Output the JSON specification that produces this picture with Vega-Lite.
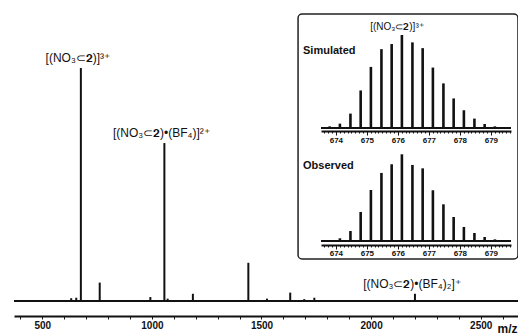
{
  "$schema": "https://vega.github.io/schema/vega-lite/v6.json",
  "padding": {"left": 13, "top": 13, "right": 0, "bottom": 0},
  "background": "white",
  "width": 505.3,
  "height": 287,
  "view": {"stroke": null},
  "config": {"font": "Liberation Sans", "text": {"font": "Liberation Sans", "color": "#111"}},
  "resolve": {"scale": {"x": "independent", "y": "independent"}, "axis": {"x": "independent", "y": "independent"}},
  "datasets": {
    "main": [
      {"mz": 632, "intensity": 1.2},
      {"mz": 655, "intensity": 1.4},
      {"mz": 676, "intensity": 100},
      {"mz": 762, "intensity": 7.9},
      {"mz": 993, "intensity": 1.7},
      {"mz": 1057, "intensity": 67.8},
      {"mz": 1072, "intensity": 1.0},
      {"mz": 1187, "intensity": 3.1},
      {"mz": 1440, "intensity": 16.4},
      {"mz": 1525, "intensity": 1.0},
      {"mz": 1631, "intensity": 3.6},
      {"mz": 1695, "intensity": 0.8},
      {"mz": 1741, "intensity": 1.4},
      {"mz": 2200, "intensity": 3.1}
    ],
    "labels": [
      {"mz": 676, "intensity": 100, "label": "[(NO₃⊂𝟐)]³⁺"},
      {"mz": 1057, "intensity": 67.8, "label": "[(NO₃⊂𝟐)•(BF₄)]²⁺"},
      {"mz": 2200, "intensity": 3.1, "label": "[(NO₃⊂𝟐)•(BF₄)₂]⁺"}
    ],
    "sim": [
      {"mz": 673.80, "intensity": 1.8},
      {"mz": 674.13, "intensity": 4.7},
      {"mz": 674.47, "intensity": 15.5},
      {"mz": 674.80, "intensity": 40.4},
      {"mz": 675.13, "intensity": 65.7},
      {"mz": 675.47, "intensity": 84.8},
      {"mz": 675.80, "intensity": 90.3},
      {"mz": 676.13, "intensity": 100},
      {"mz": 676.47, "intensity": 92.1},
      {"mz": 676.80, "intensity": 85.9},
      {"mz": 677.13, "intensity": 65.0},
      {"mz": 677.47, "intensity": 48.0},
      {"mz": 677.80, "intensity": 31.8},
      {"mz": 678.13, "intensity": 19.1},
      {"mz": 678.47, "intensity": 10.1},
      {"mz": 678.80, "intensity": 4.3},
      {"mz": 679.13, "intensity": 1.8}
    ],
    "obs": [
      {"mz": 674.13, "intensity": 3.1},
      {"mz": 674.47, "intensity": 11.5},
      {"mz": 674.80, "intensity": 33.5},
      {"mz": 675.13, "intensity": 58.8},
      {"mz": 675.47, "intensity": 78.5},
      {"mz": 675.80, "intensity": 88.5},
      {"mz": 676.13, "intensity": 100},
      {"mz": 676.47, "intensity": 87.7},
      {"mz": 676.80, "intensity": 83.8},
      {"mz": 677.13, "intensity": 58.5},
      {"mz": 677.47, "intensity": 42.3},
      {"mz": 677.80, "intensity": 27.7},
      {"mz": 678.13, "intensity": 16.2},
      {"mz": 678.47, "intensity": 9.2},
      {"mz": 678.80, "intensity": 4.6},
      {"mz": 679.13, "intensity": 1.9}
    ]
  },
  "layer": [
    {
      "data": {"name": "main"},
      "mark": {"type": "rule", "strokeWidth": 2, "color": "#111"},
      "encoding": {
        "x": {
          "field": "mz", "type": "quantitative",
          "scale": {"domain": [371, 2676], "nice": false, "zero": false},
          "axis": {
            "orient": "bottom", "offset": 15,
            "values": [400, 500, 600, 700, 800, 900, 1000, 1100, 1200, 1300, 1400, 1500, 1600, 1700, 1800, 1900, 2000, 2100, 2200, 2300, 2400, 2500, 2600],
            "labelExpr": "datum.value % 500 === 0 ? datum.label : ''",
            "format": "d",
            "domainColor": "#111", "domainWidth": 2,
            "tickColor": "#111", "tickSize": 3, "tickWidth": 1,
            "labelFont": "Liberation Sans", "labelFontSize": 10, "labelFontWeight": "bold", "labelColor": "#111",
            "labelPadding": 2, "labelFlush": false, "labelOverlap": false,
            "grid": false,
            "title": "m/z", "titleFont": "Liberation Sans", "titleFontSize": 12, "titleFontWeight": "bold", "titleColor": "#111",
            "titleX": 483, "titleY": 17, "titleAlign": "left", "titleBaseline": "alphabetic"
          }
        },
        "y": {"field": "intensity", "type": "quantitative", "scale": {"domain": [0, 123.2], "nice": false, "zero": false}, "axis": null},
        "y2": {"datum": 0}
      }
    },
    {
      "data": {"values": [{}]},
      "mark": {"type": "rule", "strokeWidth": 2, "color": "#111"},
      "encoding": {
        "x": {"datum": 371, "type": "quantitative", "scale": {"domain": [371, 2676], "nice": false, "zero": false}, "axis": null},
        "x2": {"datum": 2676},
        "y": {"datum": 0, "type": "quantitative", "scale": {"domain": [0, 123.2], "nice": false, "zero": false}, "axis": null}
      }
    },
    {
      "data": {"name": "labels"},
      "mark": {"type": "text", "fontSize": 12, "dy": -6, "dx": -3, "align": "center", "baseline": "alphabetic", "font": "Liberation Sans"},
      "encoding": {
        "x": {"field": "mz", "type": "quantitative", "scale": {"domain": [371, 2676], "nice": false, "zero": false}, "axis": null},
        "y": {"field": "intensity", "type": "quantitative", "scale": {"domain": [0, 123.2], "nice": false, "zero": false}, "axis": null},
        "text": {"field": "label"}
      }
    },
    {
      "data": {"values": [{}]},
      "mark": {"type": "rect", "fill": "white", "stroke": "#222", "strokeWidth": 1.5, "cornerRadius": 4},
      "encoding": {
        "x": {"datum": 672.78, "type": "quantitative", "scale": {"domain": [673.52, 679.65], "range": [307, 497], "nice": false, "zero": false}, "axis": null},
        "x2": {"datum": 679.875},
        "y": {"datum": 261.8, "type": "quantitative", "scale": {"domain": [-69.2, 261.8], "nice": false, "zero": false}, "axis": null},
        "y2": {"datum": -20.76}
      }
    },
    {
      "data": {"name": "sim"},
      "mark": {"type": "rule", "strokeWidth": 2.6, "color": "#111"},
      "encoding": {
        "x": {
          "field": "mz", "type": "quantitative",
          "scale": {"domain": [673.52, 679.65], "range": [307, 497], "nice": false, "zero": false},
          "axis": {
            "orient": "bottom", "offset": -170, "zindex": 1,
            "values": [673.625,673.75,673.875,674,674.125,674.25,674.375,674.5,674.625,674.75,674.875,675,675.125,675.25,675.375,675.5,675.625,675.75,675.875,676,676.125,676.25,676.375,676.5,676.625,676.75,676.875,677,677.125,677.25,677.375,677.5,677.625,677.75,677.875,678,678.125,678.25,678.375,678.5,678.625,678.75,678.875,679,679.125,679.25,679.375,679.5,679.625],
            "format": ".0f",
            "labelExpr": "datum.value % 1 === 0 ? datum.label : ''",
            "domainColor": "#111", "domainWidth": 2,
            "tickColor": "#111", "tickWidth": 1,
            "tickSize": {"condition": {"test": "datum.value % 1 === 0", "value": 4}, "value": 2},
            "labelFont": "Liberation Sans", "labelFontSize": 8, "labelFontWeight": "bold", "labelColor": "#111",
            "labelPadding": 1, "labelFlush": false, "labelOverlap": false,
            "grid": false, "title": null
          }
        },
        "y": {"field": "intensity", "type": "quantitative", "scale": {"domain": [-186.0, 122.6], "nice": false, "zero": false}, "axis": null},
        "y2": {"datum": 0}
      }
    },
    {
      "data": {"values": [{}]},
      "mark": {"type": "rule", "strokeWidth": 2, "color": "#111"},
      "encoding": {
        "x": {"datum": 673.52, "type": "quantitative", "scale": {"domain": [673.52, 679.65], "range": [307, 497], "nice": false, "zero": false}, "axis": null},
        "x2": {"datum": 679.65},
        "y": {"datum": 0, "type": "quantitative", "scale": {"domain": [-186.0, 122.6], "nice": false, "zero": false}, "axis": null}
      }
    },
    {
      "data": {"values": [{}]},
      "mark": {"type": "text", "fontSize": 11, "fontWeight": "bold", "align": "left", "baseline": "alphabetic", "font": "Liberation Sans", "text": "Simulated"},
      "encoding": {
        "x": {"datum": 672.94, "type": "quantitative", "scale": {"domain": [673.52, 679.65], "range": [307, 497], "nice": false, "zero": false}, "axis": null},
        "y": {"datum": 79.3, "type": "quantitative", "scale": {"domain": [-186.0, 122.6], "nice": false, "zero": false}, "axis": null}
      }
    },
    {
      "data": {"values": [{}]},
      "mark": {"type": "text", "fontSize": 10, "align": "center", "baseline": "alphabetic", "font": "Liberation Sans", "text": "[(NO₃⊂𝟐)]³⁺"},
      "encoding": {
        "x": {"datum": 675.97, "type": "quantitative", "scale": {"domain": [673.52, 679.65], "range": [307, 497], "nice": false, "zero": false}, "axis": null},
        "y": {"datum": 105.4, "type": "quantitative", "scale": {"domain": [-186.0, 122.6], "nice": false, "zero": false}, "axis": null}
      }
    },
    {
      "data": {"name": "obs"},
      "mark": {"type": "rule", "strokeWidth": 2.6, "color": "#111"},
      "encoding": {
        "x": {
          "field": "mz", "type": "quantitative",
          "scale": {"domain": [673.52, 679.65], "range": [307, 497], "nice": false, "zero": false},
          "axis": {
            "orient": "bottom", "offset": -56, "zindex": 1,
            "values": [673.625,673.75,673.875,674,674.125,674.25,674.375,674.5,674.625,674.75,674.875,675,675.125,675.25,675.375,675.5,675.625,675.75,675.875,676,676.125,676.25,676.375,676.5,676.625,676.75,676.875,677,677.125,677.25,677.375,677.5,677.625,677.75,677.875,678,678.125,678.25,678.375,678.5,678.625,678.75,678.875,679,679.125,679.25,679.375,679.5,679.625],
            "format": ".0f",
            "labelExpr": "datum.value % 1 === 0 ? datum.label : ''",
            "domainColor": "#111", "domainWidth": 2,
            "tickColor": "#111", "tickWidth": 1,
            "tickSize": {"condition": {"test": "datum.value % 1 === 0", "value": 4}, "value": 2},
            "labelFont": "Liberation Sans", "labelFontSize": 8, "labelFontWeight": "bold", "labelColor": "#111",
            "labelPadding": 1, "labelFlush": false, "labelOverlap": false,
            "grid": false, "title": null
          }
        },
        "y": {"field": "intensity", "type": "quantitative", "scale": {"domain": [-69.2, 261.8], "nice": false, "zero": false}, "axis": null},
        "y2": {"datum": 0}
      }
    },
    {
      "data": {"values": [{}]},
      "mark": {"type": "rule", "strokeWidth": 2, "color": "#111"},
      "encoding": {
        "x": {"datum": 673.52, "type": "quantitative", "scale": {"domain": [673.52, 679.65], "range": [307, 497], "nice": false, "zero": false}, "axis": null},
        "x2": {"datum": 679.65},
        "y": {"datum": 0, "type": "quantitative", "scale": {"domain": [-69.2, 261.8], "nice": false, "zero": false}, "axis": null}
      }
    },
    {
      "data": {"values": [{}]},
      "mark": {"type": "text", "fontSize": 11, "fontWeight": "bold", "align": "left", "baseline": "alphabetic", "font": "Liberation Sans", "text": "Observed"},
      "encoding": {
        "x": {"datum": 672.94, "type": "quantitative", "scale": {"domain": [673.52, 679.65], "range": [307, 497], "nice": false, "zero": false}, "axis": null},
        "y": {"datum": 83.0, "type": "quantitative", "scale": {"domain": [-69.2, 261.8], "nice": false, "zero": false}, "axis": null}
      }
    }
  ]
}
